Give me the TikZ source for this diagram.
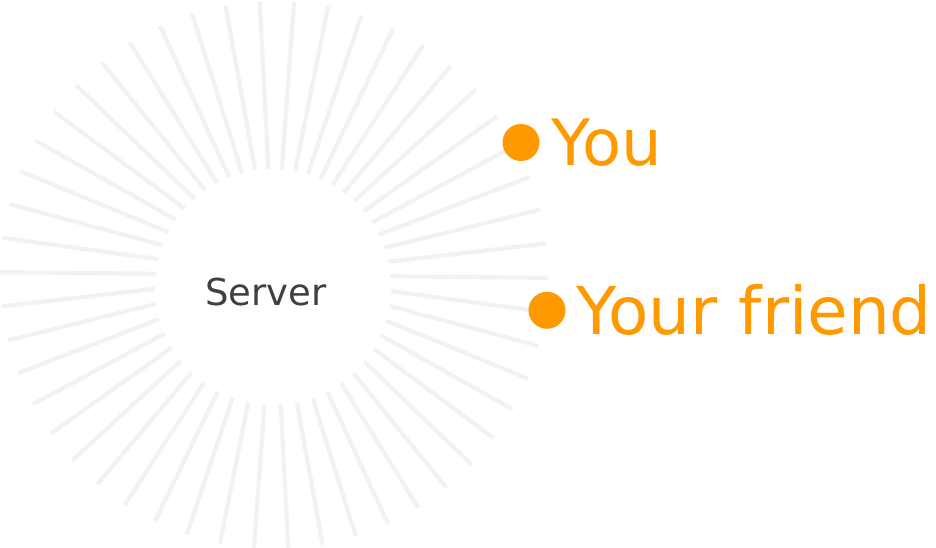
\documentclass[tikz,border=0pt]{standalone}
\usepackage{fontspec}
\setmainfont{DejaVu Sans}
\usepackage{tikz}
\usetikzlibrary{positioning}
\usepackage{xcolor}
\definecolor{rayc}{HTML}{F2F2F2}
\definecolor{peerc}{HTML}{FF9900}
\definecolor{srvc}{HTML}{404040}

\begin{document}
\begin{tikzpicture}[
  x=1pt, y=1pt,
  ray/.style={draw=rayc, line width=4.2pt},
  srvdisc/.style={circle, fill=white, minimum size=236pt, inner sep=0pt},
  srvname/.style={font=\fontsize{37}{40}\selectfont, text=srvc, inner sep=0pt},
  peerdot/.style={circle, fill=peerc, minimum size=37pt, inner sep=0pt},
  peername/.style={text=peerc, inner sep=0pt}
]
\useasboundingbox (-274,-273) rectangle (662,275);
\clip (-274,-273) rectangle (662,275);
% ---- Rays round the server ----
\coordinate (hub) at (0,0);
\foreach \k in {0,...,49}{
  \draw[ray] (hub) -- ({-0.6+7.2*\k}:274);
}
% ---- Server: white disc over the inner ends ----
\node[srvdisc] (srv) at (-1,-12) {};
\node[srvname, anchor=base] (srvlabel) at (-8,-31) {Server};
% ---- Peers at the tips of two rays ----
\node[peerdot] (you) at (247,132.5) {};
\node[peerdot] (friend) at (273,-35.3) {};
\node[peername, font=\fontsize{64}{70}\selectfont, right=12pt of you]
  (youlabel) {You};
\node[peername, font=\fontsize{66}{72}\selectfont, right=11pt of friend]
  (friendlabel) {Your friend};
\end{tikzpicture}
\end{document}
